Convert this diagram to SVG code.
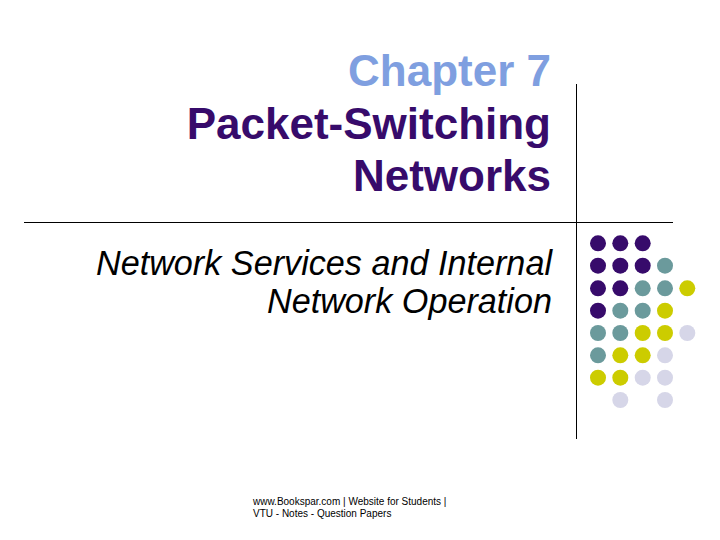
<svg xmlns="http://www.w3.org/2000/svg" width="720" height="540" viewBox="0 0 720 540">
<style>
text{font-family:"Liberation Sans",Arial,sans-serif}
.t{font-size:44px;font-weight:bold;text-anchor:end}
.s{font-size:34.2px;font-style:italic;text-anchor:end;fill:#000}
.f{font-size:10px;fill:#000}
.a{fill:#370b6b}.b{fill:#6b9a9c}.c{fill:#cccc00}.d{fill:#d6d6e8}
line{stroke:#000;stroke-width:1}
</style>
<rect width="720" height="540" fill="#fff"/>
<g id="connectors"><line x1="576.5" y1="84" x2="576.5" y2="439"/><line x1="24" y1="222.5" x2="673" y2="222.5"/></g>
<g id="title"><text class="t" x="551" y="86" fill="#7f9fe0">Chapter 7</text><text class="t" x="551" y="139" fill="#370b6b">Packet-Switching</text><text class="t" x="551" y="191" fill="#370b6b">Networks</text></g>
<g id="subtitle"><text class="s" x="552" y="275">Network Services and Internal</text><text class="s" x="552" y="313">Network Operation</text></g>
<g id="footer"><text class="f" x="253" y="505">www.Bookspar.com | Website for Students |</text><text class="f" x="253" y="517">VTU - Notes - Question Papers</text></g>
<g id="dots">
<circle class="a" cx="598" cy="243.3" r="8"/><circle class="a" cx="620.3" cy="243.3" r="8"/><circle class="a" cx="642.7" cy="243.3" r="8"/>
<circle class="a" cx="598" cy="265.7" r="8"/><circle class="a" cx="620.3" cy="265.7" r="8"/><circle class="a" cx="642.7" cy="265.7" r="8"/><circle class="b" cx="665" cy="265.7" r="8"/>
<circle class="a" cx="598" cy="288.3" r="8"/><circle class="a" cx="620.3" cy="288.3" r="8"/><circle class="b" cx="642.7" cy="288.3" r="8"/><circle class="b" cx="665" cy="288.3" r="8"/><circle class="c" cx="687.3" cy="288.3" r="8"/>
<circle class="a" cx="598" cy="310.7" r="8"/><circle class="b" cx="620.3" cy="310.7" r="8"/><circle class="b" cx="642.7" cy="310.7" r="8"/><circle class="c" cx="665" cy="310.7" r="8"/>
<circle class="b" cx="598" cy="333" r="8"/><circle class="b" cx="620.3" cy="333" r="8"/><circle class="c" cx="642.7" cy="333" r="8"/><circle class="c" cx="665" cy="333" r="8"/><circle class="d" cx="687.3" cy="333" r="8"/>
<circle class="b" cx="598" cy="355.3" r="8"/><circle class="c" cx="620.3" cy="355.3" r="8"/><circle class="c" cx="642.7" cy="355.3" r="8"/><circle class="d" cx="665" cy="355.3" r="8"/>
<circle class="c" cx="598" cy="377.7" r="8"/><circle class="c" cx="620.3" cy="377.7" r="8"/><circle class="d" cx="642.7" cy="377.7" r="8"/><circle class="d" cx="665" cy="377.7" r="8"/>
<circle class="d" cx="620.3" cy="400" r="8"/><circle class="d" cx="665" cy="400" r="8"/>
</g>
</svg>
